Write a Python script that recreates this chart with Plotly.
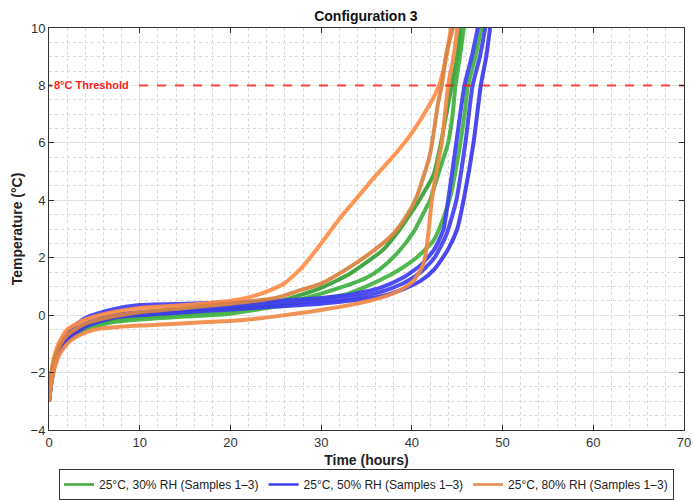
import plotly.graph_objects as go

# ---------------- data ----------------
# Green: 25°C, 30% RH
g1_t = [0, 0.3, 0.7, 1.2, 2, 4, 7, 10, 15, 20, 25, 27.7, 30, 33.2, 36.9, 38.7, 40, 41, 42.4, 43.2, 43.8, 44.4, 45.0, 45.5]
g1_y = [-3, -2.1, -1.5, -1.15, -0.8, -0.4, -0.15, 0.0, 0.1, 0.25, 0.45, 0.7, 0.95, 1.45, 2.3, 3.0, 3.6, 4.1, 4.9, 6.0, 7.0, 8.0, 9.0, 10.2]
g2_t = [0, 0.3, 0.7, 1.2, 2, 4, 7, 10, 15, 20, 25, 27.7, 30, 33, 35, 36.5, 38.5, 40.2, 41.2, 42.0, 43.0, 44.0, 44.5, 44.8, 45.3, 45.8]
g2_y = [-3, -2.2, -1.6, -1.2, -0.85, -0.45, -0.2, -0.08, 0.02, 0.15, 0.35, 0.55, 0.75, 1.05, 1.3, 1.6, 2.2, 2.9, 3.5, 4.0, 5.0, 6.0, 7.0, 8.0, 9.0, 10.2]
g3_t = [0, 0.3, 0.7, 1.2, 2, 4, 7, 10, 15, 20, 25, 27.7, 30, 33, 35, 37, 38.7, 40.5, 42.4, 43.5, 44.3, 45.3, 45.8, 46.2, 47.0, 47.8]
g3_y = [-3, -2.2, -1.65, -1.25, -0.9, -0.5, -0.25, -0.15, -0.05, 0.05, 0.3, 0.45, 0.55, 0.75, 1.0, 1.3, 1.6, 2.0, 2.6, 3.4, 4.2, 5.9, 7.0, 8.0, 9.0, 10.2]

# Blue: 25°C, 50% RH
b1_t = [0, 0.3, 0.7, 1.2, 2, 4, 7, 10, 15, 20, 25, 30, 33, 36.5, 39, 41, 42.5, 43.5, 44.0, 44.9, 45.8, 46.6, 47.4]
b1_y = [-3, -2.0, -1.4, -1.0, -0.6, -0.1, 0.2, 0.35, 0.4, 0.45, 0.5, 0.6, 0.7, 0.95, 1.3, 1.75, 2.3, 3.0, 4.0, 6.0, 8.0, 9.0, 10.2]
b2_t = [0, 0.3, 0.7, 1.2, 2, 4, 7, 10, 15, 20, 25, 30, 33, 36.5, 39, 41, 42.5, 43.8, 44.9, 45.9, 46.7, 47.5, 48.2]
b2_y = [-3, -2.2, -1.55, -1.15, -0.8, -0.3, 0.0, 0.1, 0.2, 0.3, 0.4, 0.5, 0.6, 0.8, 1.1, 1.5, 2.0, 2.8, 4.0, 6.0, 8.0, 9.0, 10.2]
b3_t = [0, 0.3, 0.7, 1.2, 2, 4, 7, 10, 15, 20, 25, 30, 33, 36.5, 39, 41, 42.5, 44.0, 45.0, 45.7, 46.8, 47.6, 48.2, 48.7]
b3_y = [-3, -2.3, -1.65, -1.25, -0.9, -0.4, -0.1, 0.0, 0.1, 0.2, 0.3, 0.4, 0.5, 0.65, 0.9, 1.2, 1.6, 2.3, 3.0, 4.0, 6.0, 8.0, 9.0, 10.2]

# Orange: 25°C, 80% RH
o1_t = [0, 0.3, 0.7, 1.2, 2, 4, 7, 10, 15, 20, 22, 24, 26, 28, 30, 32, 34, 36, 38, 40, 42, 43.0, 43.8, 44.4]
o1_y = [-3, -1.9, -1.3, -0.9, -0.5, -0.15, 0.1, 0.25, 0.35, 0.5, 0.62, 0.82, 1.12, 1.7, 2.5, 3.35, 4.1, 4.85, 5.55, 6.35, 7.35, 8.0, 9.0, 10.2]
o2_t = [0, 0.3, 0.7, 1.2, 2, 4, 7, 10, 15, 20, 25, 27.7, 30, 33.2, 36, 38, 39.5, 40.5, 42.0, 42.9, 43.3, 43.8, 44.7]
o2_y = [-3, -2.0, -1.45, -1.05, -0.7, -0.3, -0.05, 0.1, 0.25, 0.4, 0.6, 0.87, 1.1, 1.68, 2.3, 2.85, 3.5, 4.1, 5.6, 7.4, 8.0, 9.1, 10.2]
o3_t = [0, 0.3, 0.7, 1.2, 2, 3, 5, 8, 11, 15, 20, 23, 26, 30, 33.9, 36.5, 38.7, 40.2, 41.3, 41.8, 42.2, 42.7, 43.3, 44.0, 44.6, 45.1]
o3_y = [-3, -2.3, -1.75, -1.35, -1.0, -0.75, -0.5, -0.4, -0.35, -0.28, -0.2, -0.12, 0.0, 0.18, 0.4, 0.6, 0.87, 1.2, 1.8, 2.8, 4.0, 5.0, 6.0, 8.0, 9.0, 10.2]

groups = [
    ("25°C, 30% RH (Samples 1–3)", "#3aa83a", [(g1_t, g1_y, "#35a035"), (g2_t, g2_y, "#3fb03f"), (g3_t, g3_y, "#44b444")]),
    ("25°C, 50% RH (Samples 1–3)", "#3c3cf0", [(b1_t, b1_y, "#3e3ef2"), (b2_t, b2_y, "#4242f0"), (b3_t, b3_y, "#3a3aee")]),
    ("25°C, 80% RH (Samples 1–3)", "#e8864a", [(o1_t, o1_y, "#ff8e48"), (o2_t, o2_y, "#d8823e"), (o3_t, o3_y, "#f08a46")]),
]

threshold = 8
x_range = [0, 70]
y_range = [-4, 10]

fig = go.Figure()
for name, lcol, curves in groups:
    for i, (t, y, col) in enumerate(curves):
        fig.add_trace(go.Scatter(
            x=t, y=y, mode="lines", name=name, legendgroup=name,
            showlegend=False, opacity=0.92,
            line=dict(color=col, width=4, shape="spline", smoothing=0.6),
            hoverinfo="skip"))
    fig.add_trace(go.Scatter(
        x=[None], y=[None], mode="lines", name=name, legendgroup=name,
        line=dict(color=lcol, width=2.5)))

fig.add_trace(go.Scatter(
    x=x_range, y=[threshold, threshold], mode="lines", showlegend=False,
    line=dict(color="rgba(255,20,20,0.8)", width=2, dash="dash"), hoverinfo="skip"))

fig.add_annotation(
    x=0.3, y=threshold, xref="x", yref="y", xanchor="left", yanchor="middle",
    text="<b>8°C Threshold</b>", showarrow=False, bgcolor="white",
    font=dict(family="Liberation Sans, Arial", size=11, color="#ff1a1a"), borderpad=1)

axis_common = dict(
    showline=True, linecolor="#333333", linewidth=1, mirror="ticks",
    ticks="inside", ticklen=5, tickcolor="#333333",
    showgrid=True, gridcolor="#e3e3e3", gridwidth=1, zeroline=False,
    tickfont=dict(family="Liberation Sans, Arial", size=13, color="#333333"),
)

fig.update_xaxes(
    range=x_range, dtick=10, tick0=0,
    title=dict(text="<b>Time (hours)</b>", font=dict(family="Liberation Sans, Arial", size=14, color="#222222"), standoff=6),
    minor=dict(dtick=2, showgrid=True, gridcolor="#d8d8d8", griddash="dot", ticks=""),
    **axis_common)
fig.update_yaxes(
    range=y_range, dtick=2, tick0=0,
    title=dict(text="<b>Temperature (°C)</b>", font=dict(family="Liberation Sans, Arial", size=14, color="#222222"), standoff=4),
    minor=dict(dtick=0.5, showgrid=True, gridcolor="#d8d8d8", griddash="dot", ticks=""),
    **axis_common)

fig.update_layout(
    width=693, height=500,
    margin=dict(l=49, r=9, t=28, b=70, autoexpand=False),
    paper_bgcolor="white", plot_bgcolor="white",
    title=dict(text="<b>Configuration 3</b>", x=0.528, xanchor="center", y=0.968, yanchor="middle",
               font=dict(family="Liberation Sans, Arial", size=14, color="#111111")),
    legend=dict(orientation="h", x=0.5, xanchor="center", y=-0.097, yanchor="top",
                bordercolor="#333333", borderwidth=1, bgcolor="white",
                font=dict(family="Liberation Sans, Arial", size=12, color="#222222"),
                tracegroupgap=0),
    showlegend=True,
)

fig.write_html("out.html")
